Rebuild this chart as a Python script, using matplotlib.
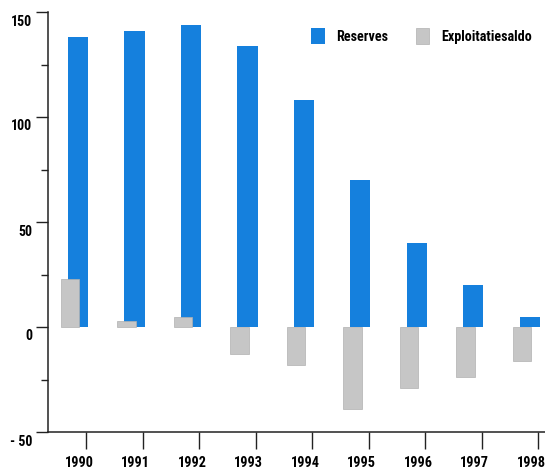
import numpy as np
import matplotlib
matplotlib.use('Agg')
import matplotlib.pyplot as plt
from matplotlib.transforms import ScaledTranslation

years = [1990, 1991, 1992, 1993, 1994, 1995, 1996, 1997, 1998]
reserves = [138, 141, 144, 134, 108, 70, 40, 20, 5]
saldo = [23, 3, 5, -13, -18, -39, -29, -24, -16]

BLUE = '#1580dd'
GREY = '#c6c6c6'

plt.rcParams['font.family'] = ['Roboto Condensed', 'Archivo Narrow', 'PT Sans Narrow',
                               'Sofia Sans Condensed', 'DejaVu Sans']
plt.rcParams['font.weight'] = 'bold'

fig = plt.figure(figsize=(5.45, 4.72), dpi=100)
ax = fig.add_axes([48 / 545, 1 - 432 / 472, 497 / 545, 420 / 472])

x = np.arange(len(years))
ax.bar(x, reserves, width=0.36, color=BLUE, label='Reserves', zorder=2)
ax.bar(x - 0.14, saldo, width=0.33, color=GREY, edgecolor='#b0b0b0',
       linewidth=0.5, label='Exploitatiesaldo', zorder=3)

ax.set_xlim(-0.53, 8.27)
ax.set_ylim(-50, 150)

for side in ['top', 'right']:
    ax.spines[side].set_visible(False)
for side in ['left', 'bottom']:
    ax.spines[side].set_color('#222222')
    ax.spines[side].set_linewidth(1.1)

ax.set_yticks([-50, 0, 50, 100, 150])
ax.set_yticklabels(['- 50', '0', '50', '100', '150'])
ax.set_yticks(np.arange(-25, 150, 50), minor=True)
ax.tick_params(axis='y', which='major', length=8.6, width=1.0, color='#222222',
               pad=3, labelsize=10)
ax.tick_params(axis='y', which='minor', length=5, width=1.0, color='#222222')

ax.set_xticks(x + 0.15)
ax.set_xticklabels([str(y) for y in years])
ax.tick_params(axis='x', length=12, width=1.0, color='#222222', pad=5,
               labelsize=10.3)

# nudge labels: y labels sit a bit below their ticks, years a bit left
for lbl in ax.get_yticklabels():
    lbl.set_transform(lbl.get_transform() + ScaledTranslation(0, -0.08, fig.dpi_scale_trans))
for lbl in ax.get_xticklabels():
    lbl.set_transform(lbl.get_transform() + ScaledTranslation(-0.07, 0, fig.dpi_scale_trans))

ax.legend(loc='upper left', bbox_to_anchor=(0.518, 0.975), ncol=2, frameon=False,
          fontsize=10.2, handlelength=0.95, handleheight=1.3, handletextpad=0.85,
          columnspacing=1.9, borderaxespad=0)

fig.savefig('out.png', dpi=100)
